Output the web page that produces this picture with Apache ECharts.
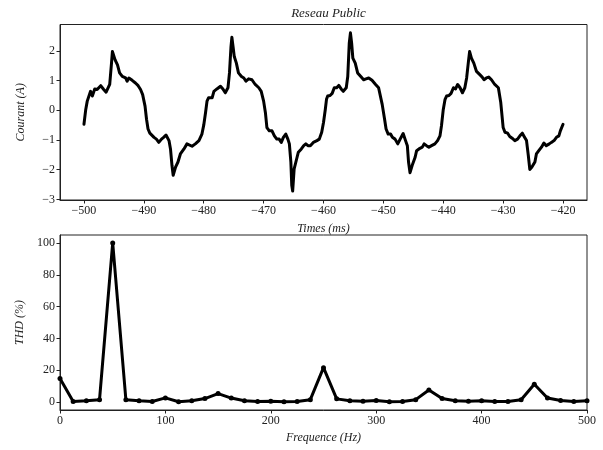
<!DOCTYPE html>
<html><head><meta charset="utf-8">
<script src="https://cdn.jsdelivr.net/npm/echarts@6/dist/echarts.min.js"></script>
<style>html,body{margin:0;padding:0;background:#fff}#c{width:603px;height:450px}</style>
</head><body><div id="c"></div>
<script>
var timeMs = [
-500,-499.7,-499.45,-498.9,-498.6,-498.2,-497.8,-497.2,-496.7,-496.3,-495.7,-495.4,-495.25,-494.8,-494.4,-494.05,-493.6,-493.05,-492.8,-492.5,-491.95,-491.4,-490.95,-490.55,-490.2,-489.8,-489.55,-489.3,-489.0,-488.7,-488.3,-487.9,-487.5,-487.05,-486.7,-486.3,-485.8,-485.55,-485.3,-485.1,-484.7,-484.3,-483.9,-483.3,-482.8,-482.5,-481.95,-481.4,-480.8,-480.3,-480.0,
-479.7,-479.45,-479.2,-478.9,-478.6,-478.3,-477.8,-477.2,-476.8,-476.4,-475.95,-475.7,-475.45,-475.3,-475.1,-474.9,-474.55,-474.2,-473.7,-473.3,-472.95,-472.5,-471.95,-471.4,-470.8,-470.4,-470.0,-469.7,-469.45,-469.05,-468.6,-468.2,-467.8,-467.4,-467.05,-466.7,-466.3,-465.95,-465.7,-465.45,-465.3,-465.15,-464.9,-464.55,-464.2,-463.7,-463.3,-462.95,-462.6,-462.2,-461.7,-461.1,-460.7,-460.3,-460.0,
-459.7,-459.5,-459.3,-458.9,-458.55,-458.2,-457.8,-457.45,-457.05,-456.7,-456.2,-455.95,-455.7,-455.5,-455.3,-455.1,-454.7,-454.3,-453.7,-453.3,-452.9,-452.45,-451.9,-451.3,-450.8,-450.2,-449.8,-449.55,-449.2,-448.8,-448.5,-448.05,-447.6,-447.2,-446.7,-446.3,-446.0,-445.8,-445.55,-445.2,-444.7,-444.45,-443.9,-443.5,-443.2,-442.8,-442.4,-441.95,-441.4,-440.95,-440.55,-440.3,
-440.0,-439.7,-439.45,-439.05,-438.7,-438.3,-437.95,-437.6,-437.2,-436.8,-436.4,-436.1,-435.8,-435.6,-435.3,-434.9,-434.45,-433.9,-433.5,-433.2,-432.8,-432.4,-431.95,-431.4,-430.8,-430.4,-430.0,-429.7,-429.25,-428.9,-428.5,-428.05,-427.6,-427.2,-426.8,-426.5,-426.1,-425.8,-425.55,-425.2,-424.7,-424.45,-424.05,-423.6,-423.2,-422.8,-422.3,-421.95,-421.5,-421.1,-420.7,-420.45,-420.0
];
var courant = [
-0.47,0.03,0.31,0.64,0.48,0.72,0.70,0.83,0.70,0.61,0.87,1.59,1.98,1.70,1.53,1.26,1.14,1.09,0.98,1.09,1.01,0.92,0.83,0.70,0.53,0.14,-0.30,-0.63,-0.77,-0.74,-0.91,-0.97,-1.08,-0.97,-0.91,-0.83,-1.02,-1.30,-1.86,-2.19,-1.91,-1.74,-1.47,-1.30,-1.13,-1.19,-1.21,-1.13,-1.02,-0.80,-0.50,
-0.08,0.31,0.42,0.48,0.42,0.64,0.72,0.81,0.72,0.59,0.76,1.26,2.14,2.46,2.14,1.81,1.59,1.26,1.14,1.09,0.98,1.06,1.03,0.87,0.76,0.64,0.31,-0.08,-0.58,-0.69,-0.69,-0.86,-0.97,-0.97,-1.08,-0.91,-0.80,-0.97,-1.13,-1.74,-2.52,-2.72,-1.97,-1.69,-1.41,-1.30,-1.19,-1.13,-1.19,-1.19,-1.08,-1.02,-0.97,-0.74,-0.41,
0.03,0.37,0.48,0.50,0.57,0.76,0.76,0.84,0.72,0.64,0.76,1.14,2.26,2.61,2.26,1.76,1.59,1.26,1.12,1.03,1.06,1.09,1.01,0.87,0.76,0.20,-0.30,-0.63,-0.80,-0.80,-0.91,-0.97,-1.13,-0.97,-0.78,-1.02,-1.19,-1.74,-2.10,-1.86,-1.58,-1.36,-1.28,-1.24,-1.13,-1.19,-1.24,-1.19,-1.13,-1.02,-0.86,-0.52,
0.03,0.37,0.48,0.50,0.57,0.76,0.72,0.87,0.76,0.59,0.76,1.09,1.64,1.98,1.76,1.59,1.31,1.20,1.12,1.03,1.09,1.12,1.03,0.87,0.76,0.26,-0.58,-0.74,-0.77,-0.88,-0.94,-1.02,-0.97,-0.86,-0.77,-0.88,-1.02,-1.52,-1.99,-1.91,-1.74,-1.47,-1.36,-1.24,-1.10,-1.19,-1.13,-1.08,-1.02,-0.91,-0.86,-0.69,-0.47
];
var freqHz = [0,12.5,25,37.5,50,62.5,75,87.5,100,112.5,125,137.5,150,162.5,175,187.5,200,212.5,225,237.5,250,262.5,275,287.5,300,312.5,325,337.5,350,362.5,375,387.5,400,412.5,425,437.5,450,462.5,475,487.5,500];
var thd = [14.8,0.3,0.8,1.5,100,1.5,0.8,0.3,2.6,0.2,0.8,2.2,5.3,2.5,0.8,0.3,0.5,0.2,0.3,1.5,21.6,2.0,0.8,0.5,1.0,0.2,0.3,1.5,7.6,2.2,0.8,0.5,0.8,0.3,0.3,1.5,11.2,2.5,1.0,0.3,0.8];
var topXTicks = [-500,-490,-480,-470,-460,-450,-440,-430,-420];
var topYTicks = [-3,-2,-1,0,1,2];
var botXTicks = [0,100,200,300,400,500];
var botYTicks = [0,20,40,60,80,100];

var FONT = 'Liberation Serif';
function fmt(v){ return String(v).replace('-', '\u2212'); }
var labelStyle = {color:'#222', fontFamily:FONT, fontSize:12};
var nameStyle = {color:'#222', fontFamily:FONT, fontSize:12, fontStyle:'italic'};
function axisCommon(ticks){
  return {
    axisLine:{show:true, onZero:false, lineStyle:{color:'#222', width:1}},
    axisTick:{show:true, length:3.5, inside:false, lineStyle:{color:'#222', width:1}, customValues:ticks},
    axisLabel:Object.assign({margin:5, formatter:fmt, customValues:ticks}, labelStyle),
    splitLine:{show:false}
  };
}
function mk(base, extra){ return Object.assign({}, base, extra); }

var chart = echarts.init(document.getElementById('c'), null, {renderer:'canvas'});
chart.setOption({
  animation:false,
  backgroundColor:'#fff',
  title:{text:'Reseau Public', left:323.5, top:2, textAlign:'center',
    textStyle:{fontFamily:FONT, fontSize:13, fontStyle:'italic', fontWeight:'normal', color:'#222'}},
  grid:[
    {left:60, top:24.5, width:527, height:175.5, show:true, borderColor:'#222', borderWidth:1, backgroundColor:'transparent'},
    {left:60, top:235, width:527, height:175, show:true, borderColor:'#222', borderWidth:1, backgroundColor:'transparent'}
  ],
  xAxis:[
    mk(axisCommon(topXTicks), {type:'value', gridIndex:0, min:-504, max:-416, name:'Times (ms)', nameLocation:'middle', nameGap:23, nameTextStyle:nameStyle}),
    mk(axisCommon(botXTicks), {type:'value', gridIndex:1, min:0, max:500, name:'Frequence (Hz)', nameLocation:'middle', nameGap:22, nameTextStyle:nameStyle})
  ],
  yAxis:[
    mk(axisCommon(topYTicks), {type:'value', gridIndex:0, min:-3.02, max:2.89, name:'Courant (A)', nameLocation:'middle', nameGap:33, nameTextStyle:nameStyle}),
    mk(axisCommon(botYTicks), {type:'value', gridIndex:1, min:-5, max:105, name:'THD (%)', nameLocation:'middle', nameGap:33, nameTextStyle:nameStyle})
  ],
  series:[
    {type:'line', xAxisIndex:0, yAxisIndex:0, showSymbol:false, symbol:'none',
      data:timeMs.map(function(t,i){return [t, courant[i]];}),
      lineStyle:{color:'#000', width:3, cap:'round', join:'round'}},
    {type:'line', xAxisIndex:1, yAxisIndex:1, symbol:'circle', symbolSize:5,
      data:freqHz.map(function(f,i){return [f, thd[i]];}),
      itemStyle:{color:'#000'},
      lineStyle:{color:'#000', width:3, cap:'round', join:'round'}}
  ]
});
</script>
</body></html>
